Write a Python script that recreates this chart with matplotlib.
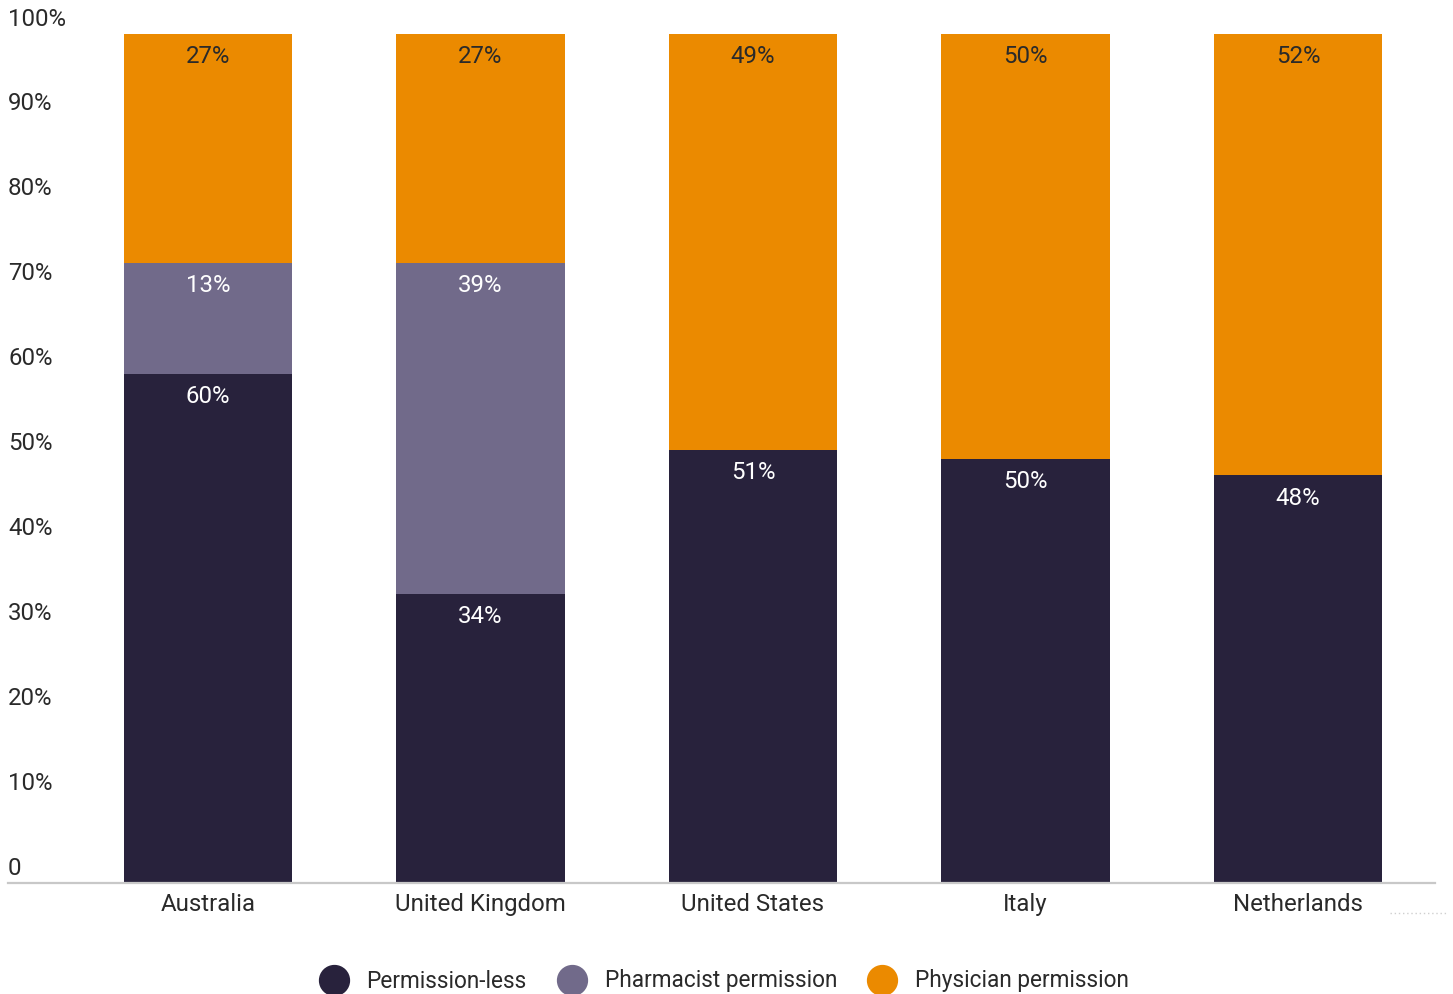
import matplotlib
matplotlib.use("Agg")
import matplotlib.pyplot as plt
from matplotlib import font_manager
from matplotlib.lines import Line2D
import numpy as np

countries = ["Australia", "United Kingdom", "United States", "Italy", "Netherlands"]
permission_less = [60, 34, 51, 50, 48]
pharmacist = [13, 39, 0, 0, 0]
physician = [27, 27, 49, 50, 52]
series_names = ["Permission-less", "Pharmacist permission", "Physician permission"]
y_ticks = [0, 10, 20, 30, 40, 50, 60, 70, 80, 90, 100]

colors = ["#28223c", "#716a8a", "#eb8a00"]
label_colors = ["white", "white", "#2a2a2a"]

main_font = ["Roboto", "DejaVu Sans"]
names = {f.name for f in font_manager.fontManager.ttflist}
legend_font = ["Liberation Sans Narrow", "DejaVu Sans"] if "Liberation Sans Narrow" in names else main_font
FS = 17.3

W, H = 1453, 994
fig = plt.figure(figsize=(W / 100, H / 100), dpi=100)
ax = fig.add_axes([8 / W, 1 - 883 / H, (1435 - 8) / W, (883 - 34) / H])

x = np.arange(len(countries))
bar_w = 0.617
layers = [permission_less, pharmacist, physician]
bottom = np.zeros(len(countries))
for vals, c, lc in zip(layers, colors, label_colors):
    vals = np.array(vals, dtype=float)
    ax.bar(x, vals, bar_w, bottom=bottom, color=c, linewidth=0, zorder=2)
    for xi, b, v in zip(x, bottom, vals):
        if v > 0:
            ax.annotate(f"{int(v)}%", (xi, b + v), xytext=(0, -8), textcoords="offset points",
                        ha="center", va="top", color=lc, fontsize=FS, family=main_font)
    bottom += vals

ax.set_xlim(-0.734, 4.503)
ax.set_ylim(0, 100)
for s in ["top", "right", "left"]:
    ax.spines[s].set_visible(False)
ax.spines["bottom"].set_color("#c8c8c8")
ax.spines["bottom"].set_linewidth(1.6)
ax.set_yticks([])
ax.set_xticks(x)
ax.set_xticklabels(countries, fontsize=FS, family=main_font, color="#2a2a2a")
ax.tick_params(axis="x", length=0, pad=7)

# y-axis labels sit just above each gridline position, flush left
for t in y_ticks:
    lab = "0" if t == 0 else f"{t}%"
    ax.annotate(lab, (0, t), xycoords=("axes fraction", "data"), xytext=(0, 2.5),
                textcoords="offset points", ha="left", va="bottom",
                fontsize=FS, family=main_font, color="#2a2a2a")

# small dotted mark at lower right
fig.add_artist(Line2D([1390 / W, 1447 / W], [1 - 913 / H] * 2, color="#cfcfcf",
                      linestyle=(0, (1, 2)), linewidth=1))

handles = [Line2D([], [], marker="o", linestyle="", markersize=21.5, color=c) for c in colors]
fig.legend(handles, series_names, loc="center", bbox_to_anchor=(720 / W, 1 - 981 / H),
           ncol=3, frameon=False, handletextpad=0.45, columnspacing=1.0,
           prop={"family": legend_font, "size": 16.3}, labelcolor="#2a2a2a")

fig.savefig("out.png", dpi=100)
